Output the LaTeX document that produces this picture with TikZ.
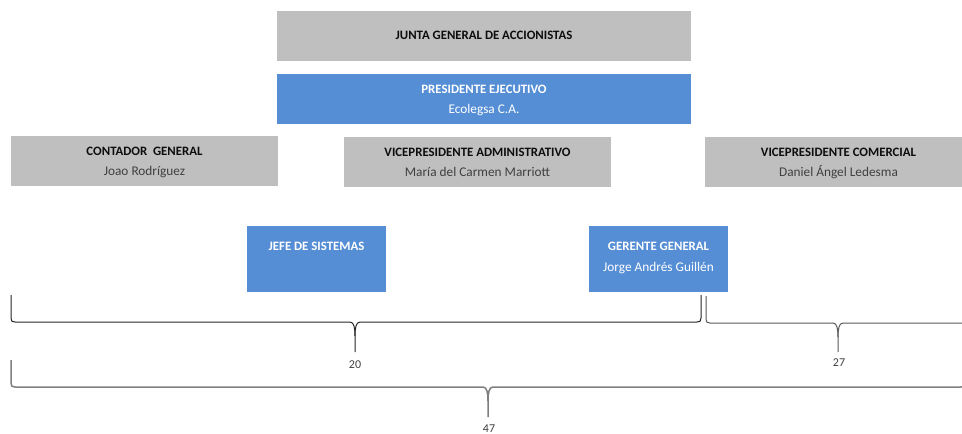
\documentclass[tikz,border=0pt]{standalone}
\usepackage{fontspec}
\setmainfont{Carlito}
\usetikzlibrary{backgrounds}
\definecolor{boxgray}{HTML}{BFBFBF}
\definecolor{boxblue}{HTML}{558ED5}
\definecolor{conngray}{HTML}{BFBFBF}
\definecolor{subgray}{HTML}{404040}
\definecolor{titlecol}{HTML}{0D0D0D}
\newcommand\orgbrace[7]{%
  \draw[#1] (#2,#5) -- (#2,{#6-4}) .. controls (#2,{#6-1}) and ({#2+1},#6) .. ({#2+4},#6)
    -- ({#3-5},#6) .. controls ({#3-1},#6) and (#3,{#6+6}) .. (#3,{#6+14}) -- (#3,#7);
  \draw[#1] (#3,{#6+14}) .. controls (#3,{#6+6}) and ({#3+1},#6) .. ({#3+5},#6)
    -- ({#4-4},#6) .. controls ({#4-1},#6) and (#4,{#6-1}) .. (#4,{#6-4}) -- (#4,#5);
}
\begin{document}
\begin{tikzpicture}[x=1pt,y=-1pt,
  box/.style={draw=none, inner sep=0pt, outer sep=0pt, anchor=north west},
  graybox/.style={box, fill=boxgray},
  bluebox/.style={box, fill=boxblue},
  ttl/.style={font=\fontsize{12.8}{15}\selectfont\bfseries, text=titlecol, anchor=base, inner sep=0pt},
  nm/.style={font=\fontsize{13.3}{15}\selectfont, text=subgray, anchor=base, inner sep=0pt},
  onblue/.style={text=white},
  conn/.style={draw=conngray, line width=1.5pt},
  numlbl/.style={font=\fontsize{12}{14}\selectfont, text=subgray, anchor=base, inner sep=0pt}]
\useasboundingbox (0,0) rectangle (962,434);
\clip (0,0) rectangle (962,434);
\fill[white] (0,0) rectangle (962,434);

% boxes
\node[graybox, minimum width=414pt, minimum height=50pt] (junta) at (277,11) {};
\node[bluebox, minimum width=414pt, minimum height=50pt] (pres) at (277,74) {};
\node[graybox, minimum width=267pt, minimum height=50pt] (contador) at (11,136) {};
\node[graybox, minimum width=267pt, minimum height=50pt] (vpadm) at (344,137) {};
\node[graybox, minimum width=267pt, minimum height=50pt] (vpcom) at (705,137) {};
\node[bluebox, minimum width=139pt, minimum height=66pt] (jefe) at (247,226) {};
\node[bluebox, minimum width=139pt, minimum height=66pt] (gerente) at (589,226) {};

% texts
\node[ttl] (tjunta) at (484,39.5) {JUNTA GENERAL DE ACCIONISTAS};
\node[ttl, onblue] (tpres) at (484,93) {PRESIDENTE EJECUTIVO};
\node[nm, onblue] (npres) at (484,113) {Ecolegsa C.A.};
\node[ttl] (tcont) at (144.5,155) {CONTADOR\ \ GENERAL};
\node[nm] (ncont) at (144.5,175) {Joao Rodríguez};
\node[ttl] (tvpadm) at (477.5,156) {VICEPRESIDENTE ADMINISTRATIVO};
\node[nm] (nvpadm) at (477.5,176) {María del Carmen Marriott};
\node[ttl] (tvpcom) at (838.5,156) {VICEPRESIDENTE COMERCIAL};
\node[nm] (nvpcom) at (838.5,176) {Daniel Ángel Ledesma};
\node[ttl, onblue] (tjefe) at (316.5,250) {JEFE DE SISTEMAS};
\node[ttl, onblue] (tger) at (658.5,250) {GERENTE GENERAL};
\node[nm, onblue] (nger) at (658.5,271) {Jorge Andrés Guillén};

% connectors
\coordinate (elbowL) at (147,123.5);
\coordinate (elbowR) at (832,123.5);
\begin{pgfonlayer}{background}
\draw[conn] (junta.south -| 479,0) -- (pres.north -| 479,0);
\draw[conn] (pres.center) |- (elbowL) -- (contador.north -| elbowL);
\draw[conn] (pres.center) |- (elbowR) -- (vpcom.north -| elbowR);
\draw[conn] (pres.center -| 478,0) -- (vpadm.north -| 478,0);
\draw[conn] (pres.center -| 313,0) -- (jefe.north -| 313,0);
\draw[conn] (pres.center -| 658,0) -- (gerente.north -| 658,0);
\end{pgfonlayer}

% braces
\orgbrace{draw={rgb,255:red,38;green,38;blue,38}, line width=1pt}{11}{355}{701}{295}{322}{352}
\orgbrace{draw={rgb,255:red,89;green,89;blue,89}, line width=1pt}{706}{838}{970}{296}{323}{352}
\orgbrace{draw={rgb,255:red,127;green,127;blue,127}, line width=1.5pt}{11}{488}{965}{360}{387}{417}

\node[numlbl] (l20) at (355,368) {20};
\node[numlbl] (l27) at (839,366) {27};
\node[numlbl] (l47) at (489,432.5) {47};
\end{tikzpicture}
\end{document}
